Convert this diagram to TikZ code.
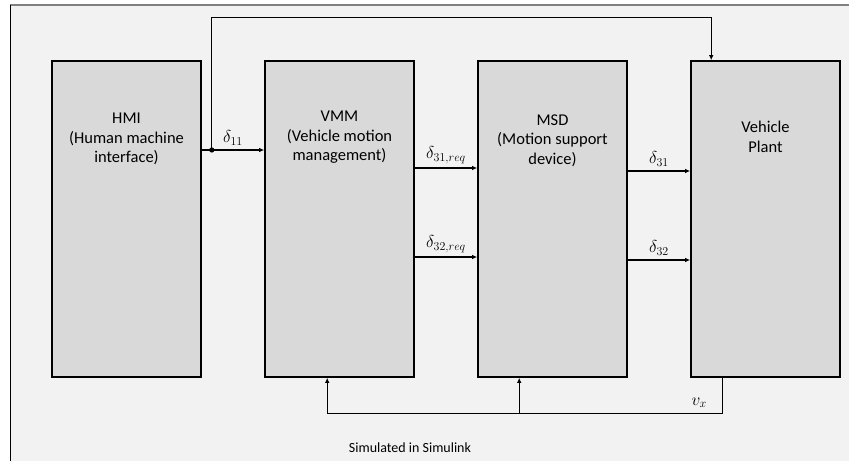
\documentclass[tikz,border=0pt]{standalone}
\usepackage{amsmath, amssymb}
\usepackage{fontspec}
\setmainfont{Carlito}
\usetikzlibrary{positioning, arrows.meta}

\definecolor{panelgray}{HTML}{F2F2F2}
\definecolor{blockgray}{HTML}{D9D9D9}
\definecolor{framegray}{HTML}{808080}

\begin{document}
\begin{tikzpicture}[x=1pt, y=-1pt,
        block/.style={draw=black, line width=1.6pt, fill=blockgray, minimum width=149pt, minimum height=316pt, inner sep=0pt},
        blocktext/.style={anchor=north, align=center, inner sep=0pt, font=\fontsize{16.5}{19.5}\selectfont},
        sig/.style={line width=1.3pt, -{Latex[length=5pt, width=4.5pt]}},
        fbline/.style={line width=0.8pt},
        siglabel/.style={above, inner sep=4pt, font=\fontsize{18}{20}\selectfont}]

        % Background panel
        \useasboundingbox (0,0) rectangle (849,461);
        \fill[panelgray] (10,5) rectangle (849,461);
        \draw[framegray, line width=2pt] (10,5) -- (849,5);
        \draw[black, line width=0.8pt] (10,5) -- (10,461);

        % Blocks
        \node[block] (hmi) at (126.5,219) {};
        \node[block] (vmm) at (339.5,219) {};
        \node[block] (msd) at (552.5,219) {};
        \node[block] (plant) at (765.5,219) {};

        % Block texts
        \node[blocktext] (hmitext) at ([yshift=-53pt]hmi.north) {HMI\\(Human machine\\interface)};
        \node[blocktext] (vmmtext) at ([yshift=-51pt]vmm.north) {VMM\\(Vehicle motion\\management)};
        \node[blocktext] (msdtext) at ([yshift=-54pt]msd.north) {MSD\\(Motion support\\device)};
        \node[blocktext] (planttext) at ([yshift=-61pt]plant.north) {Vehicle\\Plant};

        % HMI -> VMM, with branch to the plant
        \draw[sig] ([yshift=69pt]hmi.east) -- ([yshift=69pt]vmm.west) node[siglabel, midway] {$\delta_{11}$};
        \coordinate (split) at ([xshift=10pt, yshift=69pt]hmi.east);
        \fill (split) circle (2.6pt);
        \draw[sig] (split) |- ([xshift=21pt, yshift=43pt]plant.north west) -- ([xshift=21pt]plant.north west);

        % VMM -> MSD
        \draw[sig] ([yshift=51pt]vmm.east) -- ([yshift=51pt]msd.west) node[siglabel, midway] {$\delta_{31,req}$};
        \draw[sig] ([yshift=-38pt]vmm.east) -- ([yshift=-38pt]msd.west) node[siglabel, midway] {$\delta_{32,req}$};

        % MSD -> plant
        \draw[sig] ([yshift=48pt]msd.east) -- ([yshift=48pt]plant.west) node[siglabel, midway] {$\delta_{31}$};
        \draw[sig] ([yshift=-41pt]msd.east) -- ([yshift=-41pt]plant.west) node[siglabel, midway] {$\delta_{32}$};

        % Feedback of v_x
        \coordinate (vxout) at ([xshift=32pt]plant.south west);
        \coordinate (fbvmm) at ([xshift=63pt, yshift=-36pt]vmm.south west);
        \coordinate (fbmsd) at ([xshift=42pt]msd.south west);
        \draw[fbline] (vxout) |- (fbvmm);
        \draw[sig] (fbvmm) -- ([xshift=63pt]vmm.south west);
        \draw[sig] (fbvmm -| fbmsd) -- (fbmsd);
        \node[font=\fontsize{18}{20}\selectfont] (vx) at ([xshift=-23pt, yshift=-25pt]vxout) {$v_x$};

        % Caption
        \node[font=\fontsize{14}{17}\selectfont] (caption) at (410,448) {Simulated in Simulink};

    \end{tikzpicture}
\end{document}
